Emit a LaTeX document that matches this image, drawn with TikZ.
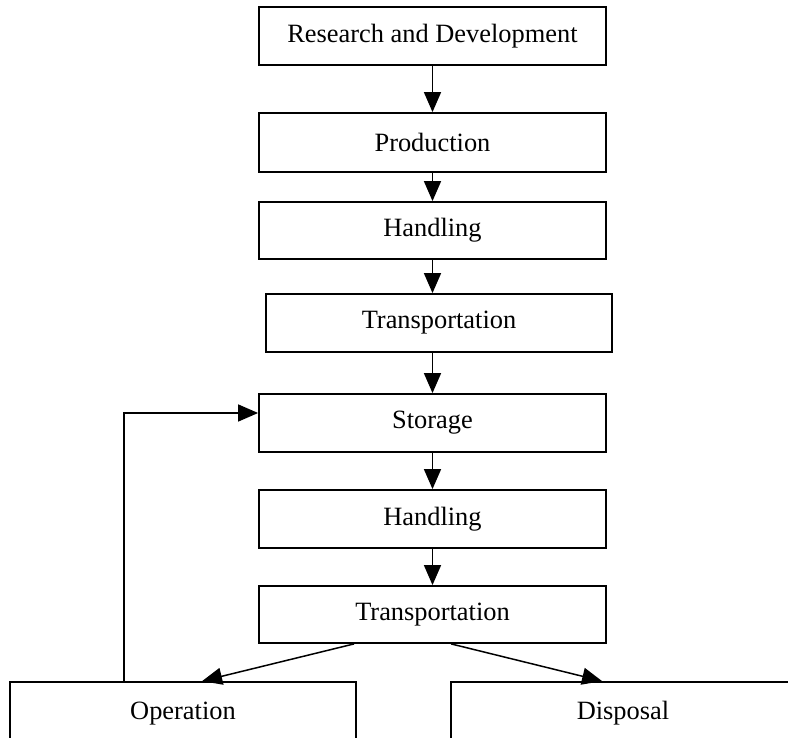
\documentclass[tikz,border=0pt]{standalone}
\usepackage{fontspec}
\setmainfont{Liberation Serif}
\usetikzlibrary{arrows.meta,calc}
\begin{document}
\begin{tikzpicture}[x=1pt,y=-1pt,
  box/.style={draw=black,line width=1.8pt,rectangle,inner sep=0pt,
    font=\fontsize{26.4}{30}\selectfont,text=black,fill=white},
  conn/.style={draw=black,line width=1.5pt,-{Triangle[length=20pt,width=17pt]}}]
\useasboundingbox (0,0) rectangle (788,738);
\clip (0,0) rectangle (788,738);
\node[box,minimum width=347pt,minimum height=58pt] (rd) at (432.5,36) {Research and Development};
\node[box,minimum width=347pt,minimum height=59pt] (prod) at (432.5,142.5) {Production};
\node[box,minimum width=347pt,minimum height=57pt] (hand1) at (432.5,230.5) {Handling};
\node[box,minimum width=346pt,minimum height=58pt] (trans1) at (439,323) {Transportation};
\node[box,minimum width=347pt,minimum height=58pt] (stor) at (432.5,423) {Storage};
\node[box,minimum width=347pt,minimum height=58pt] (hand2) at (432.5,519) {Handling};
\node[box,minimum width=347pt,minimum height=57pt] (trans2) at (432.5,614.5) {Transportation};
\node[box,minimum width=346pt,minimum height=70pt] (oper) at (183,717) {\raisebox{13pt}{Operation}};
\node[box,minimum width=380pt,minimum height=70pt] (disp) at (641,717) {\raisebox{13pt}{\hspace*{-36pt}Disposal}};
\draw[conn] (rd.south) -- (prod.north);
\draw[conn] (prod.south) -- (hand1.north);
\draw[conn] (hand1.south) -- (hand1.south |- trans1.north);
\draw[conn] (hand1.south |- trans1.south) -- (stor.north);
\draw[conn] (stor.south) -- (hand2.north);
\draw[conn] (hand2.south) -- (trans2.north);
\draw[conn] ([xshift=96pt]trans2.south west) -- ([xshift=193pt]oper.north west);
\draw[conn] ([xshift=193pt]trans2.south west) -- ([xshift=152pt]disp.north west);
\draw[conn] ([xshift=115pt]oper.north west) |- ([yshift=10pt]stor.west);
\end{tikzpicture}
\end{document}
